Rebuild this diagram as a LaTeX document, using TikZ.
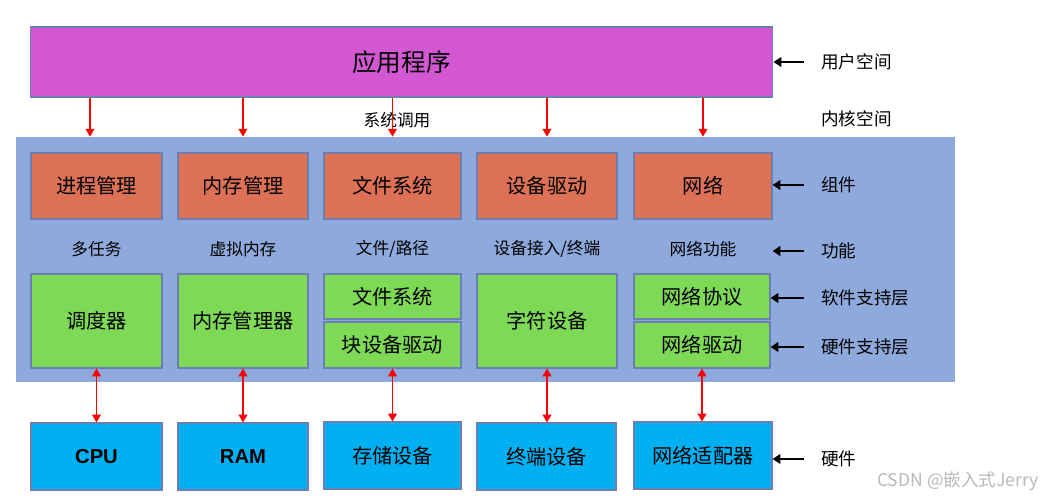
\documentclass[tikz,border=0pt]{standalone}
\usepackage{fontspec}
\setmainfont{Noto Sans CJK SC}
\newfontfamily\hwfont{Liberation Sans}
\usetikzlibrary{arrows.meta}

\definecolor{appcolor}{HTML}{D357D3}
\definecolor{kernelcolor}{HTML}{8EA9DB}
\definecolor{compcolor}{HTML}{DD7155}
\definecolor{supcolor}{HTML}{7ED957}
\definecolor{hwcolor}{HTML}{00B0F0}
\definecolor{edgecolor}{HTML}{6D7FAF}

\begin{document}
\begin{tikzpicture}[x=0.02cm,y=-0.02cm,
    box/.style={draw=edgecolor,line width=0.6pt,inner sep=0pt,font=\fontsize{11.5}{13}\selectfont},
    comp/.style={box,fill=compcolor,minimum height=1.32cm},
    sup/.style={box,fill=supcolor},
    hw/.style={box,fill=hwcolor,minimum height=1.34cm},
    func/.style={font=\fontsize{9.5}{11}\selectfont},
    side/.style={anchor=west,inner xsep=0.34cm,font=\fontsize{10}{12}\selectfont},
    call/.style={red,line width=0.9pt,-{Triangle[length=4.5pt,width=5pt]}},
    link/.style={red,line width=0.9pt,{Triangle[length=4.5pt,width=5pt]}-{Triangle[length=4.5pt,width=5pt]}},
    pointer/.style={line width=1.3pt,-{Triangle[length=4.5pt,width=5.5pt]}}
]
\useasboundingbox (0,0) rectangle (1048,500);

% User space
\node[box,fill=appcolor,minimum width=14.86cm,minimum height=1.4cm,font=\fontsize{14}{16}\selectfont] (app) at (401.5,62) {应用程序};

% Kernel space
\node[fill=kernelcolor,minimum width=18.78cm,minimum height=4.9cm,inner sep=0pt] (kernel) at (485.5,259.5) {};

% Components
\node[comp,minimum width=2.62cm] (proc) at (96.5,186) {进程管理};
\node[comp,minimum width=2.60cm] (mem) at (243,186) {内存管理};
\node[comp,minimum width=2.74cm] (fs) at (392.5,186) {文件系统};
\node[comp,minimum width=2.80cm] (dev) at (547,186) {设备驱动};
\node[comp,minimum width=2.76cm] (net) at (703,186) {网络};

% Functions
\node[func] (multitask) at (96.5,249) {多任务};
\node[func] (vmem) at (243,249) {虚拟内存};
\node[func] (fspath) at (392.5,249) {文件/路径};
\node[func] (devterm) at (547,249) {设备接入/终端};
\node[func] (netfunc) at (703,249) {网络功能};

% Software / hardware support
\node[sup,minimum width=2.62cm,minimum height=1.88cm] (sched) at (96.5,321) {调度器};
\node[sup,minimum width=2.60cm,minimum height=1.88cm] (mmu) at (243,321) {内存管理器};
\node[sup,minimum width=2.74cm,minimum height=0.9cm] (vfs) at (392.5,296.5) {文件系统};
\node[sup,minimum width=2.74cm,minimum height=0.92cm] (blkdrv) at (392.5,345) {块设备驱动};
\node[sup,minimum width=2.80cm,minimum height=1.88cm] (chardev) at (547,321) {字符设备};
\node[sup,minimum width=2.72cm,minimum height=0.9cm] (netproto) at (702,296.5) {网络协议};
\node[sup,minimum width=2.72cm,minimum height=0.92cm] (netdrv) at (702,345) {网络驱动};

% Hardware
\node[hw,minimum width=2.62cm] (cpu) at (96.5,456.5) {\hwfont\bfseries CPU};
\node[hw,minimum width=2.60cm] (ram) at (243,456.5) {\hwfont\bfseries RAM};
\node[hw,minimum width=2.74cm] (storage) at (392.5,455.5) {存储设备};
\node[hw,minimum width=2.78cm] (term) at (546.5,456.5) {终端设备};
\node[hw,minimum width=2.76cm] (nic) at (703,455.5) {网络适配器};

% System calls
\node[func] (syscall) at (397,120) {系统调用};
\draw[call] ([xshift=-0.13cm]app.south -| proc) -- ([xshift=-0.13cm]kernel.north -| proc);
\foreach \col in {mem,fs,dev,net}
    \draw[call] (app.south -| \col) -- (kernel.north -| \col);

% Drivers to hardware
\draw[link] (sched.south) -- (cpu.north);
\draw[link] (mmu.south) -- (ram.north);
\draw[link] (blkdrv.south) -- (storage.north);
\draw[link] (chardev.south) -- (chardev.south |- term.north);
\draw[link] (netdrv.south) -- (netdrv.south |- nic.north);

% Layer labels
\node[side] (uspace) at (804,62) {用户空间};
\node[side] (kspace) at (804,119) {内核空间};
\node[side] (complbl) at (804,185) {组件};
\node[side] (funclbl) at (804,251) {功能};
\node[side] (swlbl) at (804,298) {软件支持层};
\node[side] (hwsuplbl) at (804,347) {硬件支持层};
\node[side] (hwlbl) at (804,459) {硬件};

\draw[pointer] (uspace.west) -- (uspace.west -| app.east);
\draw[pointer] (complbl.west) -- (complbl.west -| net.east);
\draw[pointer] (funclbl.west) -- (funclbl.west -| net.east);
\draw[pointer] (swlbl.west) -- (swlbl.west -| netproto.east);
\draw[pointer] (hwsuplbl.west) -- (hwsuplbl.west -| netdrv.east);
\draw[pointer] (hwlbl.west) -- (hwlbl.west -| nic.east);

% Watermark
\node[anchor=east,text=gray!55,font=\fontsize{10}{12}\selectfont] (mark) at (1045,481) {CSDN @嵌入式Jerry};

\end{tikzpicture}
\end{document}
